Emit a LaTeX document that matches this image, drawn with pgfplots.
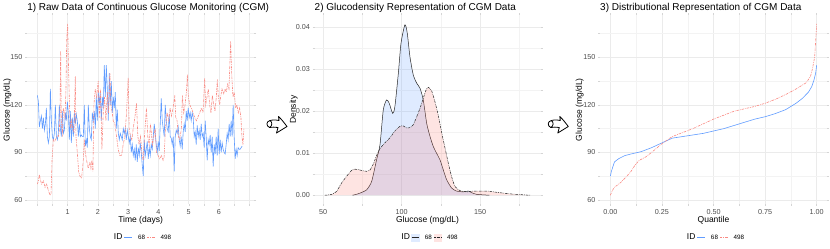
\documentclass[border=0pt]{standalone}
\usepackage{fontspec}
\setmainfont{Liberation Sans}
\usepackage{pgfplots}
\pgfplotsset{compat=1.18}
\definecolor{cA}{HTML}{619CFF}
\definecolor{cB}{HTML}{F8766D}
\definecolor{gridc}{HTML}{EBEBEB}
\definecolor{tickc}{HTML}{4D4D4D}
\tikzset{ptitle/.style={anchor=base west, inner sep=0pt, yshift=4.6pt, font=\fontsize{10}{12}\selectfont}}
\pgfplotsset{
  panel/.style={
    scale only axis, height=188.4pt, anchor=south west, clip mode=individual,
    axis line style={draw=none},
    tick align=outside, major tick length=2pt, minor tick length=2pt,
    every tick/.style={gridc!80!gray, line width=0.4pt},
    grid=both,
    major grid style={gridc, line width=0.6pt},
    minor grid style={gridc!60, line width=0.35pt},
    ticklabel style={font=\fontsize{7.2}{8}\selectfont, text=tickc},
    /pgf/number format/assume math mode=true,
    label style={font=\fontsize{8.5}{10}\selectfont},
    xlabel style={at={(axis description cs:0.5,-0.1)}, anchor=base},
    xticklabel style={anchor=base, yshift=-9pt, inner sep=0pt},
    yticklabel style={anchor=east, inner sep=0pt, xshift=-2.5pt},
    legend style={at={(axis description cs:0.5,-0.18)}, anchor=center, draw=none, fill=none,
      legend columns=-1, font=\fontsize{6.3}{7}\selectfont, inner sep=0pt,
      nodes={inner sep=1.5pt},
      /tikz/every odd column/.append style={column sep=4pt}},
    legend image code/.code={\draw[#1] (0pt,0pt) -- (8pt,0pt);},
  },
  lA/.style={cA, line width=0.6pt},
  lB/.style={cB!85, line width=0.6pt, dash pattern=on 2.5pt off 1pt on 0.7pt off 1pt},
}
\begin{document}
\begin{tikzpicture}
\useasboundingbox (0,0) rectangle (830pt,249pt);
% ---------------- Panel 1 ----------------
\begin{axis}[panel, at={(27.1pt,45.2pt)}, width=227pt,
  xmin=-0.34, xmax=7.16, ymin=57.6, ymax=176.4,
  xtick={0,1,2,3,4,5,6,7}, xticklabels={,1,2,3,4,5,6,},
  minor xtick={0.5,1.5,2.5,3.5,4.5,5.5,6.5},
  ytick={60,90,120,150}, minor ytick={75,105,135,165},
  xlabel={Time (days)}, ylabel={Glucose (mg/dL)},
  ylabel style={at={(axis description cs:-0.087,0.5)}, anchor=center},
]
\addlegendimage{empty legend}\addlegendentry{\fontsize{8.5}{9}\selectfont ID}
\addplot[lA] table {
0 126
0.033 122
0.066 106
0.099 110
0.132 113
0.165 105
0.198 112
0.231 104
0.264 108
0.297 118
0.33 100
0.363 96
0.396 100
0.429 130
0.462 110
0.495 100
0.528 98
0.561 102
0.594 120
0.627 100
0.66 98
0.693 102
0.726 120
0.759 105
0.792 100
0.825 116
0.858 102
0.891 104
0.924 115
0.957 110
0.99 122
1.023 115
1.056 98
1.089 116
1.122 96
1.155 112
1.188 100
1.221 115
1.254 108
1.287 114
1.32 110
1.353 100
1.386 108
1.419 100
1.452 101
1.485 100
1.518 100
1.551 120
1.584 94
1.617 98
1.65 93
1.683 120
1.716 105
1.749 100
1.782 98
1.815 115
1.848 110
1.881 116
1.914 105
1.947 125
1.98 110
2.013 128
2.046 120
2.079 128
2.112 110
2.145 125
2.178 118
2.211 145
2.244 125
2.277 145
2.31 130
2.343 110
2.376 140
2.409 120
2.442 135
2.475 115
2.508 125
2.541 118
2.574 128
2.607 105
2.64 117
2.673 102
2.706 98
2.739 102
2.772 100
2.805 98
2.838 105
2.871 102
2.904 105
2.937 98
2.97 104
3.003 100
3.036 96
3.069 100
3.102 90
3.135 95
3.168 88
3.201 92
3.234 85
3.267 95
3.3 84
3.333 93
3.366 88
3.399 96
3.432 90
3.465 82
3.498 75
3.531 98
3.564 88
3.597 92
3.63 97
3.663 86
3.696 93
3.729 88
3.762 95
3.795 92
3.828 100
3.861 108
3.894 102
3.927 95
3.96 90
3.993 97
4.026 91
4.059 108
4.092 124
4.125 110
4.158 105
4.191 100
4.224 120
4.257 110
4.29 105
4.323 103
4.356 114
4.389 100
4.422 99
4.455 95
4.488 100
4.521 78
4.554 100
4.587 104
4.62 102
4.653 106
4.686 98
4.719 94
4.752 100
4.785 92
4.818 103
4.851 108
4.884 103
4.917 116
4.95 110
4.983 118
5.016 112
5.049 115
5.082 110
5.115 115
5.148 112
5.181 100
5.214 103
5.247 95
5.28 107
5.313 100
5.346 104
5.379 98
5.412 108
5.445 100
5.478 102
5.511 93
5.544 110
5.577 100
5.61 85
5.643 98
5.676 95
5.709 101
5.742 90
5.775 100
5.808 81
5.841 95
5.874 89
5.907 100
5.94 88
5.973 105
6.006 89
6.039 98
6.072 90
6.105 96
6.138 92
6.171 90
6.204 89
6.237 95
6.27 102
6.303 98
6.336 108
6.369 100
6.402 110
6.435 100
6.468 120
6.501 100
6.534 86
6.567 92
6.6 88
6.633 93
6.666 92
6.699 92
6.732 93
6.765 94
};
\addlegendentry{68}
\addplot[lB] table {
0 70
0.033 72
0.066 76
0.11 72
0.143 70
0.198 72
0.253 68
0.308 70
0.363 66
0.418 63
0.451 64
0.484 85
0.527 98
0.582 97
0.637 100
0.692 100
0.725 104
0.747 115
0.769 154
0.791 110
0.824 100
0.857 118
0.912 112
0.945 130
0.967 160
1.0 171
1.033 140
1.066 115
1.099 105
1.132 110
1.165 105
1.209 103
1.253 138
1.275 100
1.319 90
1.363 78
1.407 75
1.462 74
1.516 85
1.549 98
1.582 90
1.626 85
1.681 80
1.736 84
1.769 80
1.802 85
1.835 78
1.868 120
1.912 130
1.956 125
2.011 135
2.044 112
2.088 130
2.132 92
2.176 115
2.22 125
2.264 110
2.308 128
2.352 115
2.396 140
2.429 120
2.473 115
2.505 110
2.56 108
2.615 100
2.67 92
2.725 88
2.78 88
2.835 95
2.89 100
2.945 115
3.0 137
3.033 105
3.077 100
3.121 98
3.165 105
3.22 112
3.275 121
3.319 100
3.363 95
3.407 100
3.451 90
3.495 85
3.538 100
3.604 118
3.648 100
3.692 95
3.736 108
3.802 95
3.846 100
3.89 105
3.934 90
3.989 88
4.044 86
4.099 88
4.154 85
4.187 87
4.231 105
4.286 115
4.341 110
4.385 118
4.429 113
4.484 118
4.538 126
4.571 112
4.615 110
4.659 100
4.703 98
4.758 105
4.791 126
4.835 115
4.879 120
4.923 128
4.956 139
4.989 125
5.033 120
5.088 118
5.143 115
5.198 112
5.253 110
5.319 113
5.363 115
5.418 118
5.473 115
5.527 137
5.56 120
5.604 125
5.648 130
5.692 120
5.736 115
5.78 126
5.824 120
5.868 116
5.912 125
5.945 136
5.978 125
6.022 120
6.055 125
6.099 130
6.154 127
6.198 130
6.242 128
6.286 133
6.33 130
6.385 160
6.418 140
6.462 125
6.505 128
6.549 118
6.593 120
6.637 115
6.681 118
6.725 112
6.758 100
6.791 95
6.824 105
};
\addlegendentry{498}
\node[ptitle] at (rel axis cs:0,1) {1) Raw Data of Continuous Glucose Monitoring (CGM)};
\end{axis}
% ---------------- Panel 2 ----------------
\begin{axis}[panel, at={(314.5pt,45.2pt)}, width=226pt,
  xmin=44.45, xmax=188.55, ymin=-0.00204, ymax=0.04284,
  xtick={50,100,150}, minor xtick={75,125,175},
  ytick={0,0.01,0.02,0.03,0.04}, minor ytick={0.005,0.015,0.025,0.035},
  scaled y ticks=false,
  yticklabel style={/pgf/number format/.cd, fixed, fixed zerofill, precision=2},
  xlabel={Glucose (mg/dL)}, ylabel={Density},
  ylabel style={at={(axis description cs:-0.092,0.5)}, anchor=center},
]
\addlegendimage{empty legend}\addlegendentry{\fontsize{8.5}{9}\selectfont ID}
\addlegendimage{legend image code/.code={\fill[cA!20] (0pt,-3.8pt) rectangle (7.6pt,3.8pt); \draw[black!85, line width=0.5pt] (0pt,0pt) -- (7.6pt,0pt);}}
\addlegendentry{68}
\addlegendimage{legend image code/.code={\fill[cB!20] (0pt,-3.8pt) rectangle (7.6pt,3.8pt); \draw[black!85, line width=0.5pt, dash pattern=on 2pt off 0.8pt on 0.6pt off 0.8pt] (0pt,0pt) -- (7.6pt,0pt);}}
\addlegendentry{498}
\addplot[smooth, tension=0.4, fill=cA, fill opacity=0.2, draw=black!85, draw opacity=1, line width=0.5pt] table {
68.7 0
71 0.0002
73.4 0.0005
77.7 0.0013
80.9 0.0033
84 0.0084
86.2 0.012
88.3 0.0203
90.4 0.0227
92.1 0.0219
94.3 0.0195
95.7 0.0211
97.9 0.029
99.6 0.0362
102.1 0.0406
103.6 0.0386
105.3 0.033
107.4 0.0287
109.6 0.0267
111.7 0.0255
113.8 0.0227
116 0.0171
118.1 0.014
120.2 0.0116
122.3 0.01
124.5 0.0084
126.6 0.006
128.7 0.0037
131.9 0.0017
135 0.001
139.4 0.0008
142.6 0.001
144.7 0.0006
147.9 0.0002
152 0.0001
156 0
};
\addplot[smooth, tension=0.4, fill=cB, fill opacity=0.2, draw=black!85, draw opacity=1, line width=0.5pt, dash pattern=on 2.5pt off 1pt on 0.7pt off 1pt] table {
51 0
55.3 0.0002
58.5 0.0009
61.7 0.0029
64.9 0.0045
68.1 0.0059
70.2 0.0062
72.5 0.0061
74.5 0.0059
77.7 0.0057
79.8 0.006
81.9 0.0074
84 0.0094
86.2 0.0111
89.4 0.0125
92.6 0.0137
95.7 0.0153
98.9 0.0164
101.1 0.0165
103.2 0.016
105.3 0.0161
107.4 0.0168
109.6 0.0187
111.7 0.0207
113.8 0.0231
115.5 0.025
117 0.0257
119.1 0.0249
121.3 0.0222
123.4 0.019
125.5 0.015
127.7 0.0112
129.8 0.0076
131.9 0.0044
134 0.0021
137.2 0.0011
141.5 0.0008
145.7 0.001
150 0.001
154.3 0.001
158.5 0.0008
162.8 0.0006
167 0.0004
173.4 0.0002
182 0
};
\node[ptitle] at (rel axis cs:0,1) {2) Glucodensity Representation of CGM Data};
\end{axis}
% ---------------- Panel 3 ----------------
\begin{axis}[panel, at={(600pt,45.2pt)}, width=227pt,
  xmin=-0.05, xmax=1.05, ymin=57.6, ymax=176.4,
  xtick={0,0.25,0.5,0.75,1}, xticklabels={0.00,0.25,0.50,0.75,1.00},
  minor xtick={0.125,0.375,0.625,0.875},
  ytick={60,90,120,150}, minor ytick={75,105,135,165},
  xlabel={Quantile}, ylabel={Glucose (mg/dL)},
  ylabel style={at={(axis description cs:-0.09,0.5)}, anchor=center},
]
\addlegendimage{empty legend}\addlegendentry{\fontsize{8.5}{9}\selectfont ID}
\addplot[lA] table {
0 75
0.005 78
0.01 80
0.02 84
0.04 86
0.07 88
0.1 89
0.15 90.5
0.2 93
0.25 96
0.3 99
0.35 100
0.4 101
0.45 102
0.5 103.5
0.55 105
0.6 107
0.65 109
0.7 111
0.75 112.5
0.8 114.5
0.85 117
0.9 121
0.93 124
0.96 128
0.976 131.5
0.987 135.7
0.995 140
1.0 145
};
\addlegendentry{68}
\addplot[lB] table {
0 63
0.01 66
0.02 68
0.05 71
0.08 75
0.1 78
0.12 82
0.14 85
0.17 87
0.2 90
0.25 95.5
0.3 100
0.35 102.5
0.4 105
0.45 108
0.5 111
0.55 113.5
0.6 116
0.65 117.5
0.7 119
0.75 121
0.8 123.5
0.85 126.5
0.9 130
0.95 134
0.97 138
0.98 143
0.99 150
0.995 160
1.0 171
};
\addlegendentry{498}
\node[ptitle] at (rel axis cs:0,1) {3) Distributional Representation of CGM Data};
\end{axis}
% ---------------- Arrows ----------------
\foreach \dx in {0,281.3}{
\begin{scope}[shift={(\dx pt,249pt)}, x=1pt, y=-1pt, line width=0.8pt, line join=round]
\draw[fill=white] (270,120.5) .. controls (274,119.5) and (277,120) .. (279,120.5)
  -- (278.5,116.5) .. controls (282,120) .. (287,126.5)
  .. controls (282,129) .. (276.5,133) -- (278,127.5)
  .. controls (275,127) and (272,127) .. (269.5,127.5)
  .. controls (266,126) and (266,121.5) .. (270,120.5) -- cycle;
\draw (270,120.5) .. controls (272.5,122) and (272.5,126) .. (269.5,127.5);
\end{scope}}
\end{tikzpicture}
\end{document}
